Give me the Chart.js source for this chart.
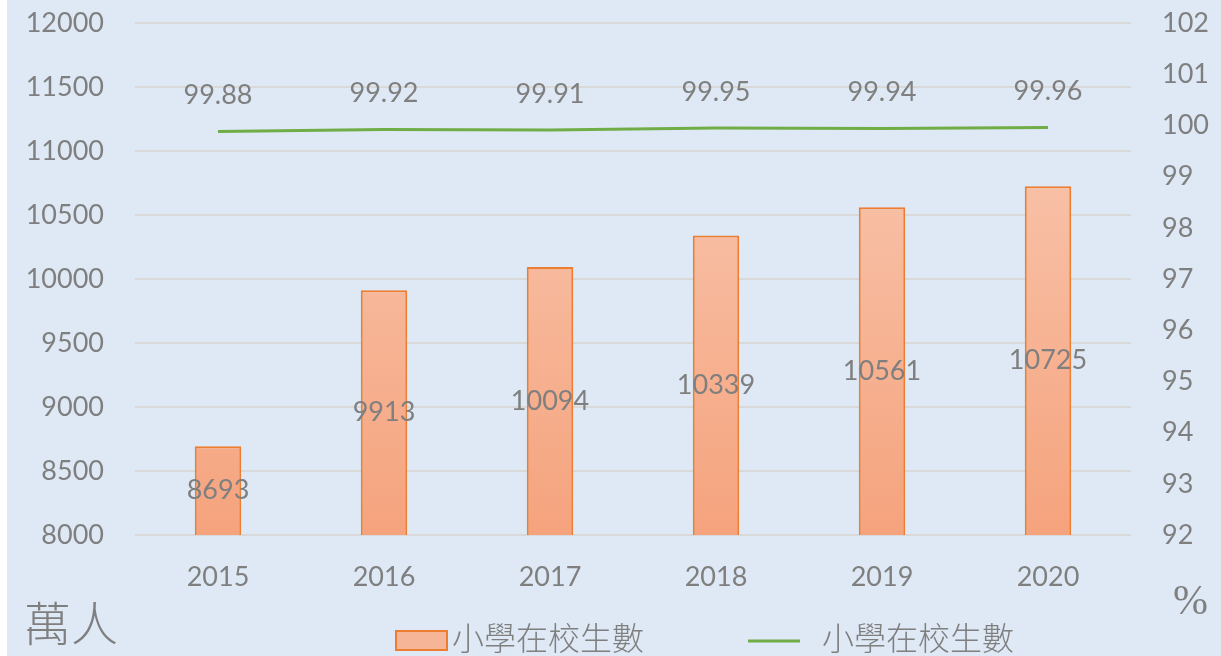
<!DOCTYPE html>
<html>
<head>
<meta charset="utf-8">
<script src="https://cdn.jsdelivr.net/npm/chart.js@4"></script>
<style>
  html, body { margin: 0; padding: 0; background: #fff; }
  #wrap { width: 1221px; height: 656px; position: relative; }
</style>
</head>
<body>
<div id="wrap"><canvas id="chart"></canvas></div>
<script>
const years = ['2015', '2016', '2017', '2018', '2019', '2020'];
const students = [8693, 9913, 10094, 10339, 10561, 10725];
const enrolRate = [99.88, 99.92, 99.91, 99.95, 99.94, 99.96];
const seriesNames = ['小學在校生數', '小學在校生數'];

const gray = '#7f7f7f';
const orange = '#ed7d31';
const green = '#70ad47';
const numFont = 'Lato, "Open Sans", sans-serif';
const cjkFont = '"Noto Sans CJK TC", "Noto Sans CJK SC", sans-serif';

function barFill(ctx) {
  const area = ctx.chart.chartArea;
  if (!area) return '#f6b08f';
  const g = ctx.chart.ctx.createLinearGradient(0, area.top + 160, 0, area.bottom);
  g.addColorStop(0, '#f8c0a6');
  g.addColorStop(1, '#f5a37d');
  return g;
}

// page background, white strip on the left
const bgPlugin = {
  id: 'bg',
  beforeDraw(chart) {
    const c = chart.ctx;
    c.save();
    c.fillStyle = '#fff';
    c.fillRect(0, 0, chart.width, chart.height);
    c.fillStyle = '#dee9f5';
    c.fillRect(7, 0, chart.width - 7, chart.height);
    c.restore();
  }
};

// value labels, unit captions and legend
const extrasPlugin = {
  id: 'extras',
  afterDatasetsDraw(chart) {
    const c = chart.ctx;
    const yScale = chart.scales.y;
    c.save();
    c.fillStyle = gray;
    c.textAlign = 'center';
    c.textBaseline = 'middle';
    c.font = '27px ' + numFont;

    chart.getDatasetMeta(0).data.forEach((bar, i) => {
      const top = yScale.getPixelForValue(students[i]);
      const bottom = yScale.getPixelForValue(yScale.min);
      c.fillText(String(students[i]), bar.x, (top + bottom) / 2);
    });
    chart.getDatasetMeta(1).data.forEach((pt, i) => {
      c.fillText(enrolRate[i].toFixed(2), pt.x, pt.y - 36);
    });

    // unit captions
    c.textAlign = 'left';
    c.font = '300 47px ' + cjkFont;
    c.fillText('萬人', 24, 623);
    c.font = '42px "Liberation Serif", "DejaVu Serif", serif';
    c.fillText('%', 1173, 603);

    // legend
    c.font = '300 32px ' + cjkFont;
    c.fillStyle = '#f7b597';
    c.fillRect(396, 631, 51, 19);
    c.strokeStyle = orange;
    c.lineWidth = 2;
    c.strokeRect(396, 631, 51, 19);
    c.fillStyle = gray;
    c.fillText(chart.data.datasets[0].label, 452, 638);

    c.strokeStyle = green;
    c.lineWidth = 3;
    c.beginPath();
    c.moveTo(748, 641);
    c.lineTo(800, 641);
    c.stroke();
    c.fillText(chart.data.datasets[1].label, 822, 638);
    c.restore();
  }
};

function fitVertical(width) {
  return s => { s.width = width; s.paddingTop = 0; s.paddingBottom = 0; };
}

new Chart(document.getElementById('chart'), {
  data: {
    labels: years,
    datasets: [
      {
        type: 'bar',
        label: seriesNames[0],
        data: students,
        yAxisID: 'y',
        backgroundColor: barFill,
        borderColor: orange,
        borderWidth: 2,
        borderSkipped: 'bottom',
        barPercentage: 0.56,
        categoryPercentage: 0.5,
        order: 2
      },
      {
        type: 'line',
        label: seriesNames[1],
        data: enrolRate,
        yAxisID: 'y1',
        borderColor: green,
        borderWidth: 3,
        pointRadius: 0,
        tension: 0,
        order: 1
      }
    ]
  },
  options: {
    responsive: true,
    maintainAspectRatio: false,
    animation: false,
    devicePixelRatio: 1,
    layout: { padding: { top: 23, left: 0, right: 0, bottom: 0 } },
    plugins: {
      legend: { display: false },
      tooltip: { enabled: false }
    },
    scales: {
      x: {
        grid: { display: false, drawTicks: false },
        border: { display: false },
        ticks: { color: gray, font: { family: numFont, size: 27 }, padding: 26 },
        afterFit(s) { s.height = 121; s.paddingLeft = 0; s.paddingRight = 0; }
      },
      y: {
        position: 'left',
        min: 8000,
        max: 12000,
        grid: { color: '#d9d9d9', lineWidth: 2, drawTicks: false },
        border: { display: false },
        ticks: {
          stepSize: 500, color: gray, font: { family: numFont, size: 27 }, padding: 31,
          callback: v => String(v)
        },
        afterFit: fitVertical(135)
      },
      y1: {
        position: 'right',
        min: 92,
        max: 102,
        grid: { display: false, drawTicks: false },
        border: { display: false },
        ticks: { stepSize: 1, color: gray, font: { family: numFont, size: 27 }, padding: 31 },
        afterFit: fitVertical(90)
      }
    }
  },
  plugins: [bgPlugin, extrasPlugin]
});
</script>
</body>
</html>
